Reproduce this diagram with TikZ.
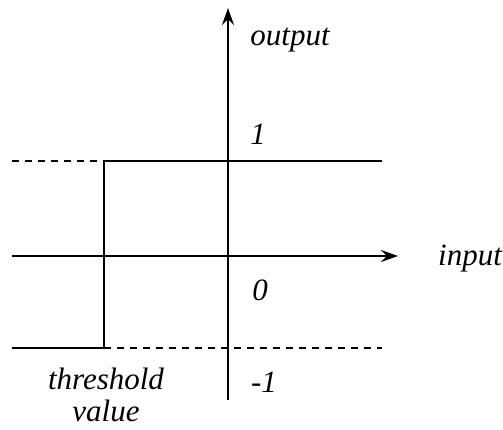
\documentclass[tikz,border=0pt]{standalone}
\usepackage{fontspec}
\setmainfont{Liberation Serif}[ItalicFont={Liberation Serif Italic}]
\newfontfamily\tmsit{Liberation Serif Italic}
\usetikzlibrary{arrows.meta}
\begin{document}
\begin{tikzpicture}[x=1pt,y=-1pt,
  axis/.style={line width=2.2pt,-{Stealth[length=17pt,width=12pt,inset=6pt]}},
  curve/.style={line width=2.6pt},
  guide/.style={line width=1.8pt,dash pattern=on 7pt off 6pt},
  lbl/.style={font=\tmsit\fontsize{31}{36}\selectfont,inner sep=0pt}]
\useasboundingbox (0,0) rectangle (503,429);
% axes
\coordinate (ybot) at (228,400);
\coordinate (ytop) at (228,8);
\coordinate (xl) at (12,256);
\coordinate (xr) at (398,256);
\draw[axis] (ybot) -- (ytop);
\draw[axis] (xl) -- (xr);
% step function
\coordinate (tl) at (12,161);
\coordinate (tm) at (104,161);
\coordinate (tr) at (382,161);
\coordinate (bl) at (12,348);
\coordinate (bm) at (104,348);
\coordinate (br) at (382,348);
\draw[guide] (tl) -- (tm);
\draw[guide] (bm) -- (br);
\draw[curve] (bl) -- (bm) -- (tm) -- (tr);
% labels
\node[lbl] (out) at (290,40) {output};
\node[lbl] (one) at (258,134) {1};
\node[lbl] (in) at (470,259) {input};
\node[lbl] (zero) at (260,290) {0};
\node[lbl] (mone) at (264,382) {-1};
\node[lbl] (thr) at (106,379) {threshold};
\node[lbl] (val) at (106,411) {value};
\end{tikzpicture}
\end{document}
